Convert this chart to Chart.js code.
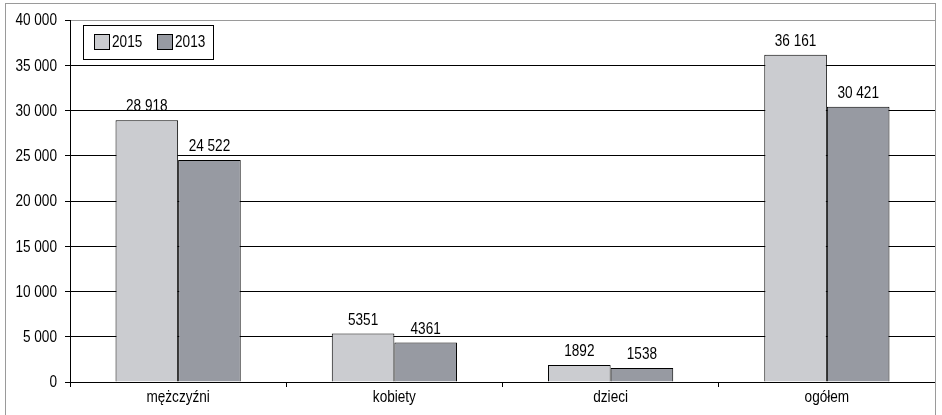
<!DOCTYPE html>
<html><head><meta charset="utf-8">
<script src="https://cdn.jsdelivr.net/npm/chart.js@4/dist/chart.umd.min.js"></script>
<style>html,body{margin:0;padding:0;background:#fff}#wrap{width:942px;height:415px}</style>
</head><body><div id="wrap"><canvas id="c" width="942" height="415"></canvas></div>
<script>
// Categories and series values
const categories = ['mężczyźni', 'kobiety', 'dzieci', 'ogółem'];
const seriesNames = ['2015', '2013'];
const values2015 = [28918, 5351, 1892, 36161];
const values2013 = [24522, 4361, 1538, 30421];
const yTickValues = [0, 5000, 10000, 15000, 20000, 25000, 30000, 35000, 40000];

const colors = ['#cbccd0', '#979aa2'];
const FONT = '16px "Liberation Sans", Arial, sans-serif';
const SQUEEZE = 0.85; // narrow lettering

// thousands separated by a space: 40000 -> "40 000"
function spaced(v) { return String(v).replace(/\B(?=(\d{3})+(?!\d))/g, ' '); }
// value labels keep four-digit numbers unseparated
function valueLabel(v) { return v >= 10000 ? spaced(v) : String(v); }

// draws condensed text anchored at (x, y)
function narrowText(ctx, text, x, y, align, baseline) {
  ctx.save();
  ctx.font = FONT;
  ctx.fillStyle = '#000';
  ctx.textAlign = align;
  ctx.textBaseline = baseline;
  ctx.translate(x, y);
  ctx.scale(SQUEEZE, 1);
  ctx.fillText(text, 0, 0);
  ctx.restore();
}

const framePlugin = {
  id: 'frame',
  afterDraw(chart) {
    const ctx = chart.ctx;
    ctx.save();
    ctx.strokeStyle = '#9a9a9a';
    ctx.lineWidth = 1;
    ctx.strokeRect(5.5, 3.5, 930, 430);
    ctx.restore();
  }
};

const axisLabels = {
  id: 'axisLabels',
  afterDraw(chart) {
    const ctx = chart.ctx;
    const y = chart.scales.y, x = chart.scales.x;
    y.ticks.forEach(t => {
      narrowText(ctx, spaced(t.value), y.right - 13, y.getPixelForValue(t.value) + 1, 'right', 'middle');
    });
    chart.data.labels.forEach((lab, i) => {
      narrowText(ctx, lab, x.getPixelForValue(i), x.top + 16, 'center', 'middle');
    });
  }
};

const valueLabels = {
  id: 'valueLabels',
  afterDatasetsDraw(chart) {
    const ctx = chart.ctx;
    chart.data.datasets.forEach((ds, i) => {
      chart.getDatasetMeta(i).data.forEach((el, j) => {
        narrowText(ctx, valueLabel(ds.data[j]), el.x, el.y - 9, 'center', 'alphabetic');
      });
    });
  }
};

const boxedLegend = {
  id: 'boxedLegend',
  afterDraw(chart) {
    const ctx = chart.ctx;
    ctx.save();
    ctx.fillStyle = '#fff';
    ctx.fillRect(83.5, 25.5, 130, 34);
    ctx.strokeStyle = '#000';
    ctx.lineWidth = 1;
    ctx.strokeRect(83.5, 25.5, 130, 34);
    let x = 94.5;
    chart.data.datasets.forEach((ds) => {
      ctx.fillStyle = ds.backgroundColor;
      ctx.fillRect(x, 34.5, 15, 15);
      ctx.strokeStyle = '#000';
      ctx.strokeRect(x, 34.5, 15, 15);
      narrowText(ctx, ds.label, x + 17.5, 43, 'left', 'middle');
      x += 63;
    });
    ctx.restore();
  }
};

new Chart(document.getElementById('c'), {
  type: 'bar',
  data: {
    labels: categories,
    datasets: [
      { label: seriesNames[0], data: values2015, backgroundColor: colors[0], borderColor: '#000', borderWidth: 1 },
      { label: seriesNames[1], data: values2013, backgroundColor: colors[1], borderColor: '#000', borderWidth: 1 }
    ]
  },
  options: {
    responsive: false,
    animation: false,
    devicePixelRatio: 1,
    layout: { padding: { top: 20, right: 7, left: 0, bottom: 0 } },
    datasets: { bar: { categoryPercentage: 0.579, barPercentage: 1 } },
    plugins: { legend: { display: false }, tooltip: { enabled: false } },
    scales: {
      x: {
        afterFit(s) { s.height = 33; },
        grid: { offset: true, drawOnChartArea: false, drawTicks: true, tickLength: 5, tickColor: '#000' },
        border: { display: true, color: '#000' },
        ticks: { display: false }
      },
      y: {
        min: 0, max: 40000,
        afterFit(s) { s.width = 70; },
        afterBuildTicks(s) { s.ticks = yTickValues.map(v => ({ value: v })); },
        grid: {
          color: (c) => (c.tick && c.tick.value === 40000) ? '#9a9a9a' : '#000',
          drawTicks: true, tickLength: 5, tickColor: '#000'
        },
        border: { display: true, color: '#000' },
        ticks: { display: false }
      }
    }
  },
  plugins: [framePlugin, axisLabels, valueLabels, boxedLegend]
});
</script>
</body></html>
